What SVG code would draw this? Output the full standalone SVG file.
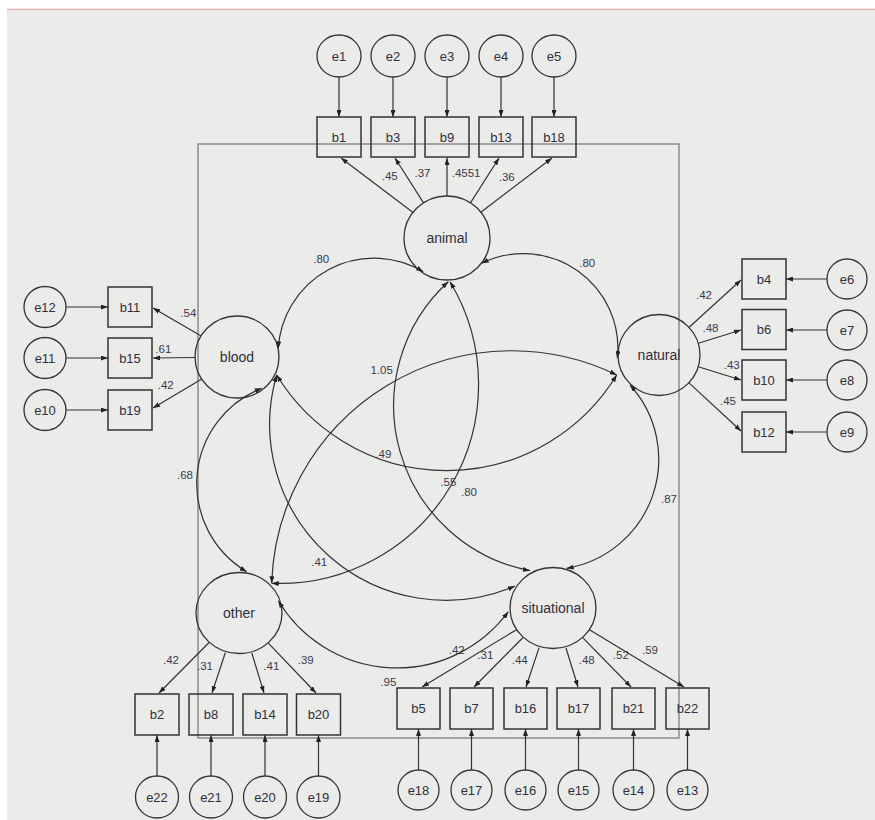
<svg xmlns="http://www.w3.org/2000/svg" width="875" height="820" viewBox="0 0 875 820">
<defs>
<marker id="ah" viewBox="0 0 7 5" refX="7" refY="2.5" markerWidth="7" markerHeight="5" markerUnits="userSpaceOnUse" orient="auto-start-reverse">
<path d="M0,0 L7,2.5 L0,5 z" fill="#222"/>
</marker>
<style>
.lat,.err{fill:none;stroke:#333;stroke-width:1.3}
.obs{fill:none;stroke:#333;stroke-width:1.5}
.t{font-family:"Liberation Sans",Arial,sans-serif;font-size:13px;fill:#30303c;text-anchor:middle}
.tl{font-family:"Liberation Sans",Arial,sans-serif;font-size:14px;fill:#30303c;text-anchor:middle}
.n{font-family:"Liberation Sans",Arial,sans-serif;font-size:11.5px;fill:#3a3a4c;text-anchor:middle}
.p{fill:none;stroke:#333;stroke-width:1.2;marker-end:url(#ah)}
.c{fill:none;stroke:#333;stroke-width:1.2;marker-start:url(#ah);marker-end:url(#ah)}
</style>
</defs>
<rect x="0" y="0" width="875" height="820" fill="#ffffff"/>
<rect x="7" y="9" width="868" height="811" fill="#ebebea"/>
<line x1="7" y1="9.3" x2="875" y2="9.3" stroke="#e59a9a" stroke-width="1"/>
<rect x="198" y="144" width="481" height="594" fill="none" stroke="#8c8c8c" stroke-width="1.5"/>

<g id="animal"><ellipse class="lat" cx="447" cy="238" rx="43" ry="42"/><text class="tl" x="447" y="243">animal</text></g>
<g id="blood"><ellipse class="lat" cx="237" cy="357" rx="42" ry="41"/><text class="tl" x="237" y="362">blood</text></g>
<g id="natural"><ellipse class="lat" cx="659" cy="355" rx="41" ry="40.5"/><text class="tl" x="659" y="360">natural</text></g>
<g id="other"><ellipse class="lat" cx="239" cy="613" rx="43" ry="40.5"/><text class="tl" x="239" y="618">other</text></g>
<g id="situational"><ellipse class="lat" cx="553" cy="608" rx="43" ry="40.5"/><text class="tl" x="553" y="613">situational</text></g>

<g id="e1"><ellipse class="err" cx="339" cy="56" rx="22" ry="21"/><text class="t" x="339" y="60.5">e1</text></g>
<g id="e2"><ellipse class="err" cx="393" cy="56" rx="22" ry="21"/><text class="t" x="393" y="60.5">e2</text></g>
<g id="e3"><ellipse class="err" cx="447" cy="56" rx="22" ry="21"/><text class="t" x="447" y="60.5">e3</text></g>
<g id="e4"><ellipse class="err" cx="501" cy="56" rx="22" ry="21"/><text class="t" x="501" y="60.5">e4</text></g>
<g id="e5"><ellipse class="err" cx="554" cy="56" rx="22" ry="21"/><text class="t" x="554" y="60.5">e5</text></g>
<g id="b1"><rect class="obs" x="317" y="117" width="44" height="40"/><text class="t" x="339" y="141.5">b1</text></g>
<g id="b3"><rect class="obs" x="371" y="117" width="44" height="40"/><text class="t" x="393" y="141.5">b3</text></g>
<g id="b9"><rect class="obs" x="425" y="117" width="44" height="40"/><text class="t" x="447" y="141.5">b9</text></g>
<g id="b13"><rect class="obs" x="479" y="117" width="44" height="40"/><text class="t" x="501" y="141.5">b13</text></g>
<g id="b18"><rect class="obs" x="532" y="117" width="44" height="40"/><text class="t" x="554" y="141.5">b18</text></g>

<g id="e12"><ellipse class="err" cx="45" cy="307" rx="21" ry="20.5"/><text class="t" x="45" y="311.5">e12</text></g>
<g id="e11"><ellipse class="err" cx="45" cy="358" rx="21" ry="20.5"/><text class="t" x="45" y="362.5">e11</text></g>
<g id="e10"><ellipse class="err" cx="45" cy="410" rx="21" ry="20.5"/><text class="t" x="45" y="414.5">e10</text></g>
<g id="b11"><rect class="obs" x="108" y="287" width="44" height="40"/><text class="t" x="130" y="311.5">b11</text></g>
<g id="b15"><rect class="obs" x="108" y="338" width="44" height="40"/><text class="t" x="130" y="362.5">b15</text></g>
<g id="b19"><rect class="obs" x="108" y="390" width="44" height="40"/><text class="t" x="130" y="414.5">b19</text></g>

<g id="b4"><rect class="obs" x="742" y="259" width="44" height="40"/><text class="t" x="764" y="283.5">b4</text></g>
<g id="b6"><rect class="obs" x="742" y="309.5" width="44" height="40"/><text class="t" x="764" y="334">b6</text></g>
<g id="b10"><rect class="obs" x="742" y="360" width="44" height="40"/><text class="t" x="764" y="384.5">b10</text></g>
<g id="b12"><rect class="obs" x="742" y="412" width="44" height="40"/><text class="t" x="764" y="436.5">b12</text></g>
<g id="e6"><ellipse class="err" cx="847" cy="279" rx="20" ry="20"/><text class="t" x="847" y="283.5">e6</text></g>
<g id="e7"><ellipse class="err" cx="847" cy="330" rx="20" ry="20"/><text class="t" x="847" y="334.5">e7</text></g>
<g id="e8"><ellipse class="err" cx="847" cy="380" rx="20" ry="20"/><text class="t" x="847" y="384.5">e8</text></g>
<g id="e9"><ellipse class="err" cx="847" cy="432" rx="20" ry="20"/><text class="t" x="847" y="436.5">e9</text></g>

<g id="b2"><rect class="obs" x="135" y="694" width="44" height="41"/><text class="t" x="157" y="719">b2</text></g>
<g id="b8"><rect class="obs" x="189" y="694" width="44" height="41"/><text class="t" x="211" y="719">b8</text></g>
<g id="b14"><rect class="obs" x="243" y="694" width="44" height="41"/><text class="t" x="265" y="719">b14</text></g>
<g id="b20"><rect class="obs" x="296.5" y="694" width="44" height="41"/><text class="t" x="318.5" y="719">b20</text></g>
<g id="e22"><ellipse class="err" cx="157" cy="797" rx="21.5" ry="21"/><text class="t" x="157" y="801.5">e22</text></g>
<g id="e21"><ellipse class="err" cx="211" cy="797" rx="21.5" ry="21"/><text class="t" x="211" y="801.5">e21</text></g>
<g id="e20"><ellipse class="err" cx="265" cy="797" rx="21.5" ry="21"/><text class="t" x="265" y="801.5">e20</text></g>
<g id="e19"><ellipse class="err" cx="318.5" cy="797" rx="21.5" ry="21"/><text class="t" x="318.5" y="801.5">e19</text></g>

<g id="b5"><rect class="obs" x="397" y="688" width="43" height="41"/><text class="t" x="418.5" y="713">b5</text></g>
<g id="b7"><rect class="obs" x="450" y="688" width="43" height="41"/><text class="t" x="471.5" y="713">b7</text></g>
<g id="b16"><rect class="obs" x="504" y="688" width="43" height="41"/><text class="t" x="525.5" y="713">b16</text></g>
<g id="b17"><rect class="obs" x="557" y="688" width="43" height="41"/><text class="t" x="578.5" y="713">b17</text></g>
<g id="b21"><rect class="obs" x="612" y="688" width="43" height="41"/><text class="t" x="633.5" y="713">b21</text></g>
<g id="b22"><rect class="obs" x="666" y="688" width="43" height="41"/><text class="t" x="687.5" y="713">b22</text></g>
<g id="e18"><ellipse class="err" cx="418.5" cy="790" rx="20.5" ry="20"/><text class="t" x="418.5" y="794.5">e18</text></g>
<g id="e17"><ellipse class="err" cx="471.5" cy="790" rx="20.5" ry="20"/><text class="t" x="471.5" y="794.5">e17</text></g>
<g id="e16"><ellipse class="err" cx="525.5" cy="790" rx="20.5" ry="20"/><text class="t" x="525.5" y="794.5">e16</text></g>
<g id="e15"><ellipse class="err" cx="578.5" cy="790" rx="20.5" ry="20"/><text class="t" x="578.5" y="794.5">e15</text></g>
<g id="e14"><ellipse class="err" cx="633.5" cy="790" rx="20.5" ry="20"/><text class="t" x="633.5" y="794.5">e14</text></g>
<g id="e13"><ellipse class="err" cx="687.5" cy="790" rx="20.5" ry="20"/><text class="t" x="687.5" y="794.5">e13</text></g>

<g id="connectors">
<path class="p" d="M339 77 L339 117"/>
<path class="p" d="M393 77 L393 117"/>
<path class="p" d="M447 77 L447 117"/>
<path class="p" d="M501 77 L501 117"/>
<path class="p" d="M554 77 L554 117"/>
<path class="p" d="M66 307 L108 307"/>
<path class="p" d="M66 358 L108 358"/>
<path class="p" d="M66 410 L108 410"/>
<path class="p" d="M827 279 L786 279"/>
<path class="p" d="M827 330 L786 330"/>
<path class="p" d="M827 380 L786 380"/>
<path class="p" d="M827 432 L786 432"/>
<path class="p" d="M157 776 L157 735"/>
<path class="p" d="M211 776 L211 735"/>
<path class="p" d="M265 776 L265 735"/>
<path class="p" d="M318.5 776 L318.5 735"/>
<path class="p" d="M418.5 770 L418.5 729"/>
<path class="p" d="M471.5 770 L471.5 729"/>
<path class="p" d="M525.5 770 L525.5 729"/>
<path class="p" d="M578.5 770 L578.5 729"/>
<path class="p" d="M633.5 770 L633.5 729"/>
<path class="p" d="M687.5 770 L687.5 729"/>

<path class="p" d="M413.4 212.8 L341 158"/>
<path class="p" d="M423.7 203.1 L395 158"/>
<path class="p" d="M447 196 L447 158"/>
<path class="p" d="M470.3 203.1 L499 158"/>
<path class="p" d="M480.5 212.6 L552 158"/>
<path class="p" d="M201.2 336 L153 308"/>
<path class="p" d="M195.5 357.5 L153 358"/>
<path class="p" d="M201.8 379 L153 408"/>
<path class="p" d="M689.2 327.3 L741 280"/>
<path class="p" d="M698.3 343.2 L741 330"/>
<path class="p" d="M698.3 366.8 L741 380"/>
<path class="p" d="M689 382.9 L741 431"/>
<path class="p" d="M209.1 642.5 L159 693"/>
<path class="p" d="M225.3 652.7 L212 693"/>
<path class="p" d="M251.8 653 L264 693"/>
<path class="p" d="M268.3 643.1 L316 693"/>
<path class="p" d="M516.9 629.4 L422 687"/>
<path class="p" d="M523.1 637.5 L474 687"/>
<path class="p" d="M539.1 647.6 L526 687"/>
<path class="p" d="M566 648 L578 687"/>
<path class="p" d="M582.7 637.7 L631 687"/>
<path class="p" d="M589.1 629.5 L684 687"/>

<path class="c" d="M278.3 348.3 A96 96 0 0 1 423.3 271.7"/>
<path class="c" d="M481.7 263.3 A94.5 94.5 0 0 1 617.3 358.3"/>
<path class="c" d="M450 281.7 A199 199 0 0 1 271.7 583.3"/>
<path class="c" d="M448.3 281.7 A168 168 0 0 0 530 570.7"/>
<path class="c" d="M276.7 375 A199 199 0 0 0 616.7 375"/>
<path class="c" d="M261.7 388.3 A102.5 102.5 0 0 0 246.7 571.7"/>
<path class="c" d="M276.7 375 A176 176 0 0 0 515 586"/>
<path class="c" d="M271.7 583.3 A240 240 0 0 1 616.7 375"/>
<path class="c" d="M630 385 A110.5 110.5 0 0 1 566.7 568.3"/>
<path class="c" d="M278.3 600.7 A138.3 138.3 0 0 0 508.3 611.7"/>
</g>

<g id="labels">
<text class="n" x="389.7" y="180">.45</text>
<text class="n" x="422.5" y="176.5">.37</text>
<text class="n" x="451.7" y="176.5" style="text-anchor:start">.4551</text>
<text class="n" x="506.7" y="180.7">.36</text>
<text class="n" x="188.3" y="316.5">.54</text>
<text class="n" x="163.3" y="353">.61</text>
<text class="n" x="165.7" y="389">.42</text>
<text class="n" x="704" y="298.7">.42</text>
<text class="n" x="710.5" y="331.5">.48</text>
<text class="n" x="731.7" y="369">.43</text>
<text class="n" x="728" y="404.5">.45</text>
<text class="n" x="171" y="664.3">.42</text>
<text class="n" x="205" y="670">.31</text>
<text class="n" x="271.3" y="670">.41</text>
<text class="n" x="305.7" y="664.3">.39</text>
<text class="n" x="456.7" y="653.5">.42</text>
<text class="n" x="485.3" y="659.3">.31</text>
<text class="n" x="519.7" y="664.3">.44</text>
<text class="n" x="586.7" y="664.3">.48</text>
<text class="n" x="620.8" y="659.3">.52</text>
<text class="n" x="650" y="653.5">.59</text>
<text class="n" x="321.2" y="263.2">.80</text>
<text class="n" x="587.2" y="266.5">.80</text>
<text class="n" x="381.7" y="374.2">1.05</text>
<text class="n" x="383.3" y="457.7">.49</text>
<text class="n" x="448.3" y="485.7">.55</text>
<text class="n" x="469" y="495.7">.80</text>
<text class="n" x="669" y="502.5">.87</text>
<text class="n" x="185" y="478.7">.68</text>
<text class="n" x="319.2" y="565.7">.41</text>
<text class="n" x="388.3" y="685.7">.95</text>
</g>
</svg>
